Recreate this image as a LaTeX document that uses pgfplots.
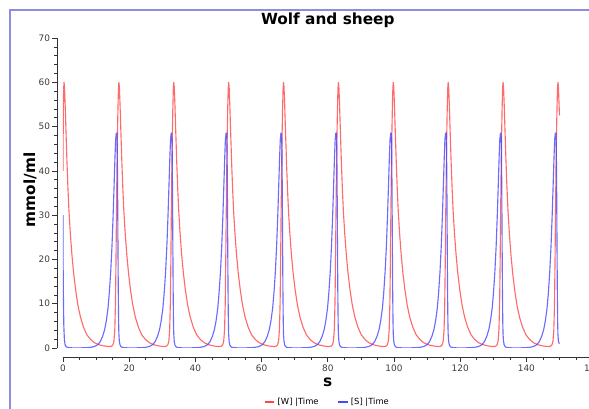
\documentclass[border=0pt]{standalone}
\usepackage{fontspec}
\setmainfont{DejaVu Sans}
\usepackage{pgfplots}
\pgfplotsset{compat=1.18}
\definecolor{wcol}{RGB}{255,70,70}
\definecolor{scol}{RGB}{70,70,255}
\definecolor{framecol}{RGB}{140,140,225}
\definecolor{tickcol}{RGB}{70,60,50}
\begin{document}
\begin{tikzpicture}
\begin{axis}[
  name=ax,
  at={(0,0)}, anchor=south west,
  scale only axis,
  width=397.2pt, height=232.5pt,
  xmin=0, xmax=160, ymin=0, ymax=70,
  axis lines=left,
  axis line style={-, black!80, line width=0.6pt},
  axis x line shift=6.75pt,
  axis y line shift=4.5pt,
  xtick distance=20, ytick distance=10,
  minor x tick num=3, minor y tick num=4,
  tick align=outside,
  major tick length=3.75pt, minor tick length=2.2pt,
  tick style={black!80, line width=0.5pt},
  /pgf/number format/assume math mode=true,
  ticklabel style={font=\fontsize{6.7}{8}\selectfont, text=tickcol},
  xticklabel style={yshift=1.5pt},
  yticklabel style={xshift=2pt},
  title={Wolf and sheep},
  title style={font=\fontsize{11.5}{13}\selectfont\bfseries, at={(0.5,1)}, anchor=center, yshift=7.5pt},
  xlabel={s},
  xlabel style={font=\fontsize{11.5}{13}\selectfont\bfseries, at={(axis description cs:0.5,0)}, anchor=center, yshift=-26pt},
  ylabel={mmol/ml},
  ylabel style={font=\fontsize{11.5}{13}\selectfont\bfseries, at={(axis description cs:0,0.51)}, anchor=center, yshift=24.75pt},
  legend style={at={(axis description cs:0.5,0)}, anchor=center, yshift=-40.5pt, draw=none, fill=none,
    font=\fontsize{6.3}{8}\selectfont, legend columns=2,
    /tikz/every even column/.append style={column sep=12pt}},
  legend image code/.code={\draw[#1, opacity=1] (0cm,0cm) -- (0.26cm,0cm);},
]
\addplot[wcol, line width=0.85pt, opacity=0.8] coordinates {
(0,40)(0.08,52)(0.18,58)(0.30,60)
(0.45,59)(0.65,55)(0.90,49)(1.20,42)(1.50,36)(1.80,31)(2.20,26)(2.70,21)(3.20,17)(3.80,13.2)(4.50,9.7)(5.30,6.9)(6.20,4.7)(7.20,3.0)(8.30,1.95)(9.50,1.2)(10.80,0.75)(12.10,0.5)(13.30,0.37)(14.20,0.33)(14.70,0.42)(15.10,0.75)(15.40,1.6)(15.65,4.2)(15.85,10)(16.00,19)(16.15,30)(16.30,40)(16.45,48)(16.60,54)(16.75,58.5)(16.88,60)
(17.03,59)(17.23,55)(17.48,49)(17.78,42)(18.08,36)(18.38,31)(18.78,26)(19.28,21)(19.78,17)(20.38,13.2)(21.08,9.7)(21.88,6.9)(22.78,4.7)(23.78,3.0)(24.88,1.95)(26.08,1.2)(27.38,0.75)(28.68,0.5)(29.88,0.37)(30.78,0.33)(31.28,0.42)(31.68,0.75)(31.98,1.6)(32.23,4.2)(32.43,10)(32.58,19)(32.73,30)(32.88,40)(33.03,48)(33.18,54)(33.33,58.5)(33.46,60)
(33.61,59)(33.81,55)(34.06,49)(34.36,42)(34.66,36)(34.96,31)(35.36,26)(35.86,21)(36.36,17)(36.96,13.2)(37.66,9.7)(38.46,6.9)(39.36,4.7)(40.36,3.0)(41.46,1.95)(42.66,1.2)(43.96,0.75)(45.26,0.5)(46.46,0.37)(47.36,0.33)(47.86,0.42)(48.26,0.75)(48.56,1.6)(48.81,4.2)(49.01,10)(49.16,19)(49.31,30)(49.46,40)(49.61,48)(49.76,54)(49.91,58.5)(50.04,60)
(50.19,59)(50.39,55)(50.64,49)(50.94,42)(51.24,36)(51.54,31)(51.94,26)(52.44,21)(52.94,17)(53.54,13.2)(54.24,9.7)(55.04,6.9)(55.94,4.7)(56.94,3.0)(58.04,1.95)(59.24,1.2)(60.54,0.75)(61.84,0.5)(63.04,0.37)(63.94,0.33)(64.44,0.42)(64.84,0.75)(65.14,1.6)(65.39,4.2)(65.59,10)(65.74,19)(65.89,30)(66.04,40)(66.19,48)(66.34,54)(66.49,58.5)(66.62,60)
(66.77,59)(66.97,55)(67.22,49)(67.52,42)(67.82,36)(68.12,31)(68.52,26)(69.02,21)(69.52,17)(70.12,13.2)(70.82,9.7)(71.62,6.9)(72.52,4.7)(73.52,3.0)(74.62,1.95)(75.82,1.2)(77.12,0.75)(78.42,0.5)(79.62,0.37)(80.52,0.33)(81.02,0.42)(81.42,0.75)(81.72,1.6)(81.97,4.2)(82.17,10)(82.32,19)(82.47,30)(82.62,40)(82.77,48)(82.92,54)(83.07,58.5)(83.20,60)
(83.35,59)(83.55,55)(83.80,49)(84.10,42)(84.40,36)(84.70,31)(85.10,26)(85.60,21)(86.10,17)(86.70,13.2)(87.40,9.7)(88.20,6.9)(89.10,4.7)(90.10,3.0)(91.20,1.95)(92.40,1.2)(93.70,0.75)(95.00,0.5)(96.20,0.37)(97.10,0.33)(97.60,0.42)(98.00,0.75)(98.30,1.6)(98.55,4.2)(98.75,10)(98.90,19)(99.05,30)(99.20,40)(99.35,48)(99.50,54)(99.65,58.5)(99.78,60)
(99.93,59)(100.13,55)(100.38,49)(100.68,42)(100.98,36)(101.28,31)(101.68,26)(102.18,21)(102.68,17)(103.28,13.2)(103.98,9.7)(104.78,6.9)(105.68,4.7)(106.68,3.0)(107.78,1.95)(108.98,1.2)(110.28,0.75)(111.58,0.5)(112.78,0.37)(113.68,0.33)(114.18,0.42)(114.58,0.75)(114.88,1.6)(115.13,4.2)(115.33,10)(115.48,19)(115.63,30)(115.78,40)(115.93,48)(116.08,54)(116.23,58.5)(116.36,60)
(116.51,59)(116.71,55)(116.96,49)(117.26,42)(117.56,36)(117.86,31)(118.26,26)(118.76,21)(119.26,17)(119.86,13.2)(120.56,9.7)(121.36,6.9)(122.26,4.7)(123.26,3.0)(124.36,1.95)(125.56,1.2)(126.86,0.75)(128.16,0.5)(129.36,0.37)(130.26,0.33)(130.76,0.42)(131.16,0.75)(131.46,1.6)(131.71,4.2)(131.91,10)(132.06,19)(132.21,30)(132.36,40)(132.51,48)(132.66,54)(132.81,58.5)(132.94,60)
(133.09,59)(133.29,55)(133.54,49)(133.84,42)(134.14,36)(134.44,31)(134.84,26)(135.34,21)(135.84,17)(136.44,13.2)(137.14,9.7)(137.94,6.9)(138.84,4.7)(139.84,3.0)(140.94,1.95)(142.14,1.2)(143.44,0.75)(144.74,0.5)(145.94,0.37)(146.84,0.33)(147.34,0.42)(147.74,0.75)(148.04,1.6)(148.29,4.2)(148.49,10)(148.64,19)(148.79,30)(148.94,40)(149.09,48)(149.24,54)(149.39,58.5)(149.52,60)
(149.67,59)(149.87,55)(150.00,52.5)
};
\addlegendentry{[W] |Time}
\addplot[scol, line width=0.85pt, opacity=0.8] coordinates {
(0,30)(0.05,18)(0.15,10)(0.25,5)(0.40,2.2)(0.60,0.8)(0.90,0.35)(1.30,0.15)
(1.90,0.07)(2.80,0.04)(4.30,0.03)(5.80,0.04)(7.30,0.08)(8.30,0.15)(9.30,0.3)(10.10,0.55)(10.70,0.9)(11.30,1.5)(12.00,2.7)(12.60,4.2)(13.10,6.2)(13.60,9)(14.00,12.5)(14.40,17)(14.80,23)(15.15,30)(15.45,37)(15.70,43)(15.90,47)(16.10,48.5)(16.30,48.5)(16.40,45)(16.50,36)(16.60,24)(16.70,13)(16.80,6)(16.88,3.2)
(17.03,1.5)(17.23,0.7)(17.48,0.35)(17.88,0.15)(18.48,0.07)(19.38,0.04)(20.88,0.03)(22.38,0.04)(23.88,0.08)(24.88,0.15)(25.88,0.3)(26.68,0.55)(27.28,0.9)(27.88,1.5)(28.58,2.7)(29.18,4.2)(29.68,6.2)(30.18,9)(30.58,12.5)(30.98,17)(31.38,23)(31.73,30)(32.03,37)(32.28,43)(32.48,47)(32.68,48.5)(32.88,48.5)(32.98,45)(33.08,36)(33.18,24)(33.28,13)(33.38,6)(33.46,3.2)
(33.61,1.5)(33.81,0.7)(34.06,0.35)(34.46,0.15)(35.06,0.07)(35.96,0.04)(37.46,0.03)(38.96,0.04)(40.46,0.08)(41.46,0.15)(42.46,0.3)(43.26,0.55)(43.86,0.9)(44.46,1.5)(45.16,2.7)(45.76,4.2)(46.26,6.2)(46.76,9)(47.16,12.5)(47.56,17)(47.96,23)(48.31,30)(48.61,37)(48.86,43)(49.06,47)(49.26,48.5)(49.46,48.5)(49.56,45)(49.66,36)(49.76,24)(49.86,13)(49.96,6)(50.04,3.2)
(50.19,1.5)(50.39,0.7)(50.64,0.35)(51.04,0.15)(51.64,0.07)(52.54,0.04)(54.04,0.03)(55.54,0.04)(57.04,0.08)(58.04,0.15)(59.04,0.3)(59.84,0.55)(60.44,0.9)(61.04,1.5)(61.74,2.7)(62.34,4.2)(62.84,6.2)(63.34,9)(63.74,12.5)(64.14,17)(64.54,23)(64.89,30)(65.19,37)(65.44,43)(65.64,47)(65.84,48.5)(66.04,48.5)(66.14,45)(66.24,36)(66.34,24)(66.44,13)(66.54,6)(66.62,3.2)
(66.77,1.5)(66.97,0.7)(67.22,0.35)(67.62,0.15)(68.22,0.07)(69.12,0.04)(70.62,0.03)(72.12,0.04)(73.62,0.08)(74.62,0.15)(75.62,0.3)(76.42,0.55)(77.02,0.9)(77.62,1.5)(78.32,2.7)(78.92,4.2)(79.42,6.2)(79.92,9)(80.32,12.5)(80.72,17)(81.12,23)(81.47,30)(81.77,37)(82.02,43)(82.22,47)(82.42,48.5)(82.62,48.5)(82.72,45)(82.82,36)(82.92,24)(83.02,13)(83.12,6)(83.20,3.2)
(83.35,1.5)(83.55,0.7)(83.80,0.35)(84.20,0.15)(84.80,0.07)(85.70,0.04)(87.20,0.03)(88.70,0.04)(90.20,0.08)(91.20,0.15)(92.20,0.3)(93.00,0.55)(93.60,0.9)(94.20,1.5)(94.90,2.7)(95.50,4.2)(96.00,6.2)(96.50,9)(96.90,12.5)(97.30,17)(97.70,23)(98.05,30)(98.35,37)(98.60,43)(98.80,47)(99.00,48.5)(99.20,48.5)(99.30,45)(99.40,36)(99.50,24)(99.60,13)(99.70,6)(99.78,3.2)
(99.93,1.5)(100.13,0.7)(100.38,0.35)(100.78,0.15)(101.38,0.07)(102.28,0.04)(103.78,0.03)(105.28,0.04)(106.78,0.08)(107.78,0.15)(108.78,0.3)(109.58,0.55)(110.18,0.9)(110.78,1.5)(111.48,2.7)(112.08,4.2)(112.58,6.2)(113.08,9)(113.48,12.5)(113.88,17)(114.28,23)(114.63,30)(114.93,37)(115.18,43)(115.38,47)(115.58,48.5)(115.78,48.5)(115.88,45)(115.98,36)(116.08,24)(116.18,13)(116.28,6)(116.36,3.2)
(116.51,1.5)(116.71,0.7)(116.96,0.35)(117.36,0.15)(117.96,0.07)(118.86,0.04)(120.36,0.03)(121.86,0.04)(123.36,0.08)(124.36,0.15)(125.36,0.3)(126.16,0.55)(126.76,0.9)(127.36,1.5)(128.06,2.7)(128.66,4.2)(129.16,6.2)(129.66,9)(130.06,12.5)(130.46,17)(130.86,23)(131.21,30)(131.51,37)(131.76,43)(131.96,47)(132.16,48.5)(132.36,48.5)(132.46,45)(132.56,36)(132.66,24)(132.76,13)(132.86,6)(132.94,3.2)
(133.09,1.5)(133.29,0.7)(133.54,0.35)(133.94,0.15)(134.54,0.07)(135.44,0.04)(136.94,0.03)(138.44,0.04)(139.94,0.08)(140.94,0.15)(141.94,0.3)(142.74,0.55)(143.34,0.9)(143.94,1.5)(144.64,2.7)(145.24,4.2)(145.74,6.2)(146.24,9)(146.64,12.5)(147.04,17)(147.44,23)(147.79,30)(148.09,37)(148.34,43)(148.54,47)(148.74,48.5)(148.94,48.5)(149.04,45)(149.14,36)(149.24,24)(149.34,13)(149.44,6)(149.52,3.2)
(149.67,1.5)(149.87,1.1)(150.00,1.0)
};
\addlegendentry{[S] |Time}
\end{axis}
\pgfresetboundingbox
\useasboundingbox (-47.25pt,-45.75pt) rectangle (394.5pt,261pt);
\draw[framecol, line width=1.2pt] (-39.75pt,-50pt) -- (-39.75pt,253.5pt) -- (400pt,253.5pt);
\end{tikzpicture}
\end{document}
